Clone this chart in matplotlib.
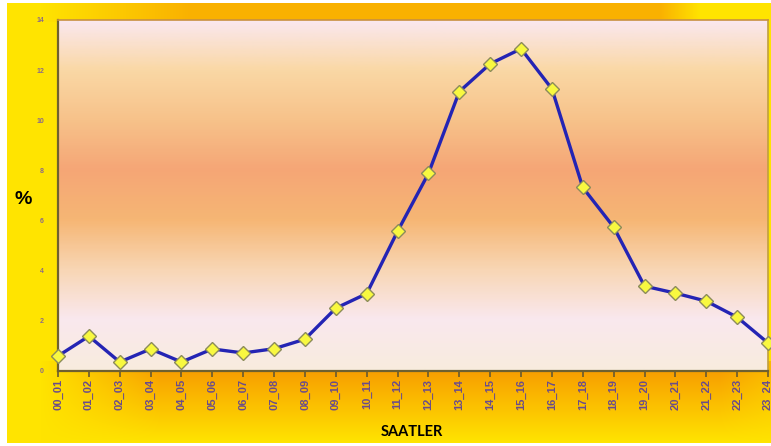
import numpy as np
import matplotlib
matplotlib.use("Agg")
import matplotlib.pyplot as plt
from matplotlib.colors import LinearSegmentedColormap

# Hourly share of the daily total (%)
hours = ["00_01", "01_02", "02_03", "03_04", "04_05", "05_06", "06_07", "07_08",
         "08_09", "09_10", "10_11", "11_12", "12_13", "13_14", "14_15", "15_16",
         "16_17", "17_18", "18_19", "19_20", "20_21", "21_22", "22_23", "23_24"]
share = [0.58, 1.37, 0.34, 0.86, 0.34, 0.86, 0.70, 0.87,
         1.25, 2.49, 3.07, 5.56, 7.87, 11.14, 12.25, 12.85,
         11.25, 7.31, 5.73, 3.37, 3.09, 2.77, 2.13, 1.10]
y_ticks = [0, 2, 4, 6, 8, 10, 12, 14]

W, H, DPI = 771, 446, 100
fig = plt.figure(figsize=(W / DPI, H / DPI), dpi=DPI)
fig.patch.set_facecolor("white")

# ---- figure backdrop: yellow/orange gradient panel ----
bg = fig.add_axes([0, 0, 1, 1], zorder=-10)
bg.set_axis_off()
yy, xx = np.mgrid[0:H, 0:W].astype(float)
yellow = np.array([255, 228, 0]) / 255
orange = np.array([248, 160, 0]) / 255
# orange strength: strongest just below the plot area, fading downward and to the left
t_bottom = np.clip(1 - (yy - 372) / 70, 0, 1) * (yy > 360)
t_left = np.clip((xx - 40) / 120, 0, 1)
t_right = np.clip((780 - xx) / 60, 0, 1)
t = t_bottom * t_left * (0.55 + 0.45 * t_right)
# top strip
t_top = (yy < 22) * np.clip((xx - 40) / 150, 0, 1) * np.clip((700 - xx) / 40, 0, 1) * 0.75
t = np.maximum(t, t_top)
img = yellow[None, None, :] * (1 - t[..., None]) + orange[None, None, :] * t[..., None]
# thin white margin on the left, top and bottom
img[:, :7] = 1
img[:3, :] = 1
img[H - 3:, :] = 1
bg.imshow(img, extent=[0, W, H, 0], aspect="auto", interpolation="bilinear")
bg.set_xlim(0, W)
bg.set_ylim(H, 0)

# ---- plot area ----
left, right, top, bottom = 58, 768, 20, 370.5
ax = fig.add_axes([left / W, 1 - bottom / H, (right - left) / W, (bottom - top) / H])

stops = [
    (0.0, (248, 236, 222)),
    (2 / 14, (250, 232, 238)),
    (4 / 14, (248, 214, 180)),
    (6 / 14, (246, 182, 116)),
    (8 / 14, (245, 166, 118)),
    (10 / 14, (247, 194, 138)),
    (12 / 14, (250, 216, 165)),
    (1.0, (250, 232, 240)),
]
cmap = LinearSegmentedColormap.from_list(
    "plotbg", [(p, tuple(np.array(c) / 255)) for p, c in stops])
grad = np.linspace(0, 1, 300)[:, None]
ax.imshow(grad, cmap=cmap, extent=[0, 23, 0, 14], origin="lower",
          aspect="auto", zorder=0, interpolation="bilinear")

x = np.arange(len(hours))
ax.plot(x, share, color="#2424b4", lw=2.4, zorder=3, clip_on=False,
        marker="D", ms=7.5, mfc="#f8f840", mec="#8c8c5a", mew=1.0)

ax.set_xlim(0, 23)
ax.set_ylim(0, 14)
ax.set_xticks(x)
ax.set_xticklabels(hours, rotation=90, fontsize=8, fontweight="bold",
                   color="#6a4c8c", family="Liberation Sans")
ax.set_yticks(y_ticks)
ax.set_yticklabels([str(v) for v in y_ticks], fontsize=5, fontweight="bold",
                   color="#8a6a8a", family="Liberation Sans")
ax.tick_params(axis="x", length=4, width=1.2, color="#6a5a30", pad=2)
ax.tick_params(axis="y", length=0, pad=10)

for side in ["left", "bottom"]:
    ax.spines[side].set_color("#6e6030")
    ax.spines[side].set_linewidth(1.6)
ax.spines["top"].set_color("#c89040")
ax.spines["top"].set_linewidth(1.2)
ax.spines["right"].set_color("#c0a040")
ax.spines["right"].set_linewidth(1.2)

fig.text(23 / W, 1 - 200 / H, "%", fontsize=14, fontweight="bold",
         ha="center", va="center", color="black", family="Liberation Sans")
fig.text(412 / W, 1 - 432 / H, "SAATLER", fontsize=10.5, fontweight="bold",
         ha="center", va="center", color="black", family="Lato")

fig.savefig("out.png", dpi=DPI, facecolor=fig.get_facecolor())
